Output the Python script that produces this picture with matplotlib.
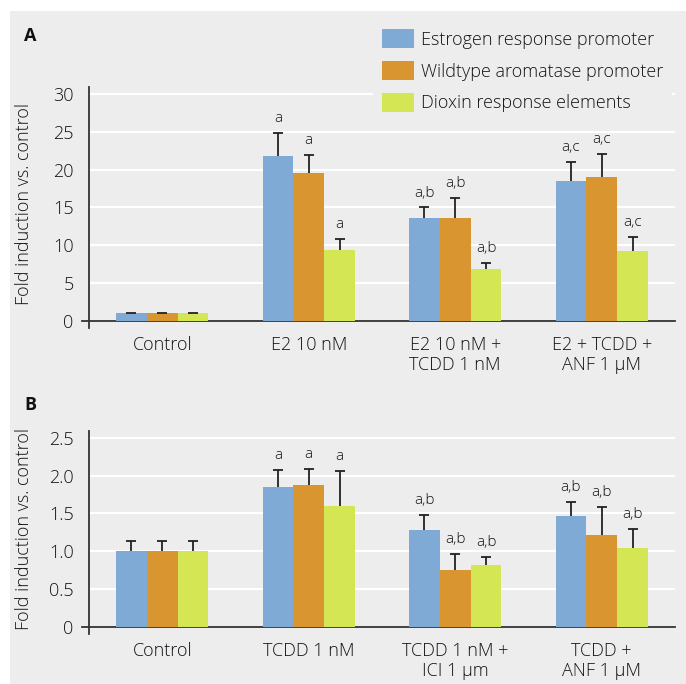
import matplotlib
matplotlib.use("Agg")
import matplotlib.pyplot as plt
from matplotlib.patches import Rectangle, Patch
from matplotlib.lines import Line2D
import numpy as np

plt.rcParams['font.family'] = ['Open Sans', 'DejaVu Sans']
plt.rcParams['font.weight'] = 'light'
plt.rcParams['axes.labelweight'] = 'light'

series = ["Estrogen response promoter", "Wildtype aromatase promoter", "Dioxin response elements"]
colors = ["#7faad6", "#d9952f", "#d5e655"]

cats_a = ["Control", "E2 10 nM", "E2 10 nM +\nTCDD 1 nM", "E2 + TCDD +\nANF 1 µM"]
vals_a = [[1.0, 21.8, 13.65, 18.55],
          [1.0, 19.5, 13.65, 19.0],
          [1.0, 9.4, 6.9, 9.25]]
err_a = [[0.1, 3.1, 1.35, 2.5],
         [0.1, 2.5, 2.6, 3.1],
         [0.1, 1.5, 0.8, 1.9]]
ann_a = [["", "a", "a,b", "a,c"],
         ["", "a", "a,b", "a,c"],
         ["", "a", "a,b", "a,c"]]

cats_b = ["Control", "TCDD 1 nM", "TCDD 1 nM +\nICI 1 µm", "TCDD +\nANF 1 µM"]
vals_b = [[1.0, 1.85, 1.28, 1.47],
          [1.0, 1.88, 0.75, 1.21],
          [1.0, 1.60, 0.82, 1.04]]
err_b = [[0.13, 0.22, 0.20, 0.18],
         [0.13, 0.21, 0.22, 0.38],
         [0.13, 0.46, 0.11, 0.25]]
ann_b = [["", "a", "a,b", "a,b"],
         ["", "a", "a,b", "a,b"],
         ["", "a", "a,b", "a,b"]]

yticks_a = [0, 5, 10, 15, 20, 25, 30]
yticklabels_a = ["0", "5", "10", "15", "20", "25", "30"]
yticks_b = [0, 0.5, 1.0, 1.5, 2.0, 2.5]
yticklabels_b = ["0", "0.5", "1.0", "1.5", "2.0", "2.5"]

BG = "#ededed"
TXT = "#141414"
W, H = 686, 684
fig = plt.figure(figsize=(W / 100, H / 100), dpi=100, facecolor="white")
fig.patches.append(Rectangle((10 / W, 0), 1 - 10 / W, 1 - 11 / H, transform=fig.transFigure,
                             facecolor=BG, edgecolor="none", zorder=-10))

def panel(rect, cats, vals, errs, anns, yticks, ylabels, ymax):
    ax = fig.add_axes(rect)
    ax.set_facecolor(BG)
    x = np.arange(len(cats))
    bw = 0.21
    cap = 5 / (rect[2] * W) * len(cats)
    for i in range(3):
        xs = x + (i - 1) * bw
        v = np.array(vals[i])
        e = np.array(errs[i])
        ax.bar(xs, v, bw, color=colors[i], zorder=3, linewidth=0)
        ax.vlines(xs, v, v + e, color="#222222", lw=1.3, zorder=4)
        ax.hlines(v + e, xs - cap, xs + cap, color="#222222", lw=1.3, zorder=4)
        for j in range(len(cats)):
            if anns[i][j]:
                ax.annotate(anns[i][j], (xs[j], v[j] + e[j]), xytext=(0, 5),
                            textcoords="offset points", ha="center", va="bottom",
                            fontsize=11, color=TXT, zorder=5)
    ax.set_xlim(-0.5, len(cats) - 0.5)
    ax.set_ylim(0, ymax)
    ax.set_yticks(yticks)
    ax.set_yticklabels(ylabels)
    ax.set_xticks(x)
    ax.set_xticklabels(cats, linespacing=1.1)
    ax.tick_params(axis="both", length=0, labelsize=13, colors=TXT, pad=11)
    for t in yticks[1:]:
        ax.axhline(t, color="white", lw=1.6, zorder=1)
    for s in ["top", "right"]:
        ax.spines[s].set_visible(False)
    for s in ["left", "bottom"]:
        ax.spines[s].set_color("#333333")
        ax.spines[s].set_linewidth(1.3)
    wpx = rect[2] * W
    hpx = rect[3] * H
    ax.add_line(Line2D([-7 / wpx, 0], [0, 0], transform=ax.transAxes, color="#333333",
                       lw=1.3, clip_on=False))
    ax.add_line(Line2D([0, 0], [-7 / hpx, 0], transform=ax.transAxes, color="#333333",
                       lw=1.3, clip_on=False))
    ax.set_ylabel("Fold induction vs. control", fontsize=13, color=TXT)
    return ax

axA = panel([89 / W, 1 - 321 / H, 586 / W, 234 / H], cats_a, vals_a, err_a, ann_a,
            yticks_a, yticklabels_a, 30 + 7 / 7.567)
axB = panel([89 / W, 1 - 627 / H, 586 / W, 196.3 / H], cats_b, vals_b, err_b, ann_b,
            yticks_b, yticklabels_b, 2.5 + 7 / 75.7)

for ax in (axA, axB):
    ax.yaxis.set_label_coords(-(89 - 33) / 586, 0.5)

fig.text(24 / W, 1 - 36 / H, "A", fontsize=13, fontweight="bold", color="#111111", va="center")
fig.text(24 / W, 1 - 405 / H, "B", fontsize=13, fontweight="bold", color="#111111", va="center")

handles = [Patch(facecolor=c, edgecolor="none") for c in colors]
leg = axA.legend(handles, series, loc="upper left", bbox_to_anchor=(373 / W, 1 - 20 / H),
                 bbox_transform=fig.transFigure, frameon=True, fontsize=13,
                 handlelength=1.75, handleheight=1.25, handletextpad=0.4, labelspacing=0.68,
                 borderaxespad=0, borderpad=0.5)
leg.get_frame().set_facecolor(BG)
leg.get_frame().set_edgecolor("none")
leg.get_frame().set_alpha(1)
for t in leg.get_texts():
    t.set_color(TXT)

fig.savefig("out.png", dpi=100, facecolor="white")
